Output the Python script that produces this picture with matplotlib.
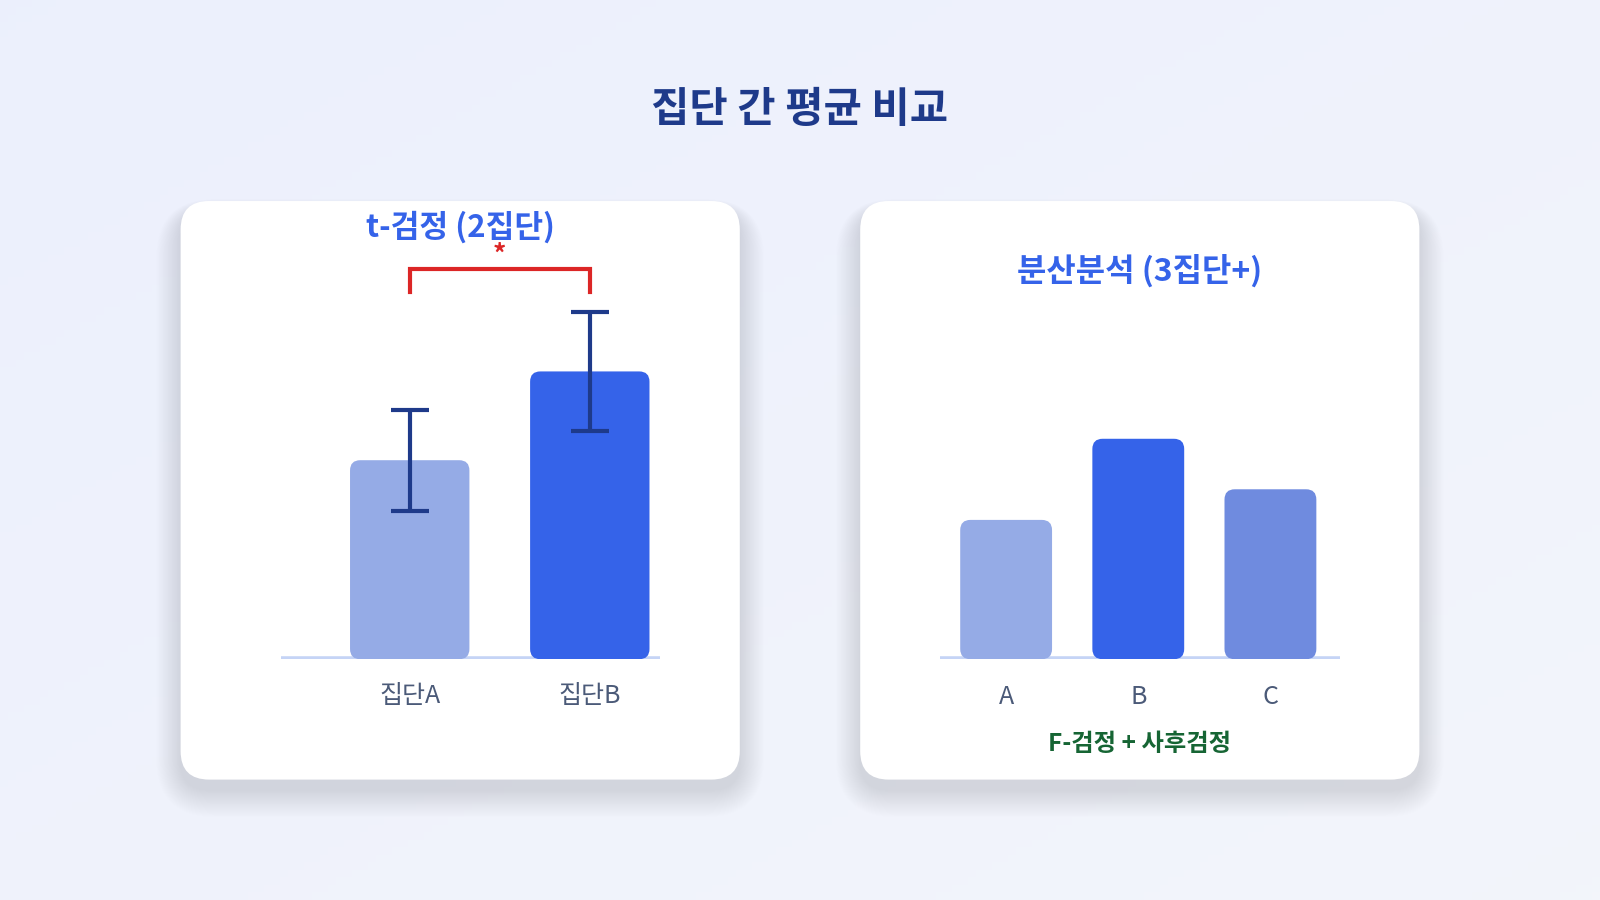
"""집단 간 평균 비교 — t-검정 vs 분산분석 카드 두 장."""
import matplotlib

matplotlib.use("Agg")
import matplotlib.pyplot as plt  # noqa: E402
import numpy as np  # noqa: E402
from matplotlib.patches import FancyBboxPatch  # noqa: E402

plt.rcParams["font.family"] = ["Noto Sans CJK KR", "DejaVu Sans"]

# ---- data ----
t_groups = ["집단A", "집단B"]
t_means = [65, 94]
t_errs = [16.5, 19.5]
t_colors = ["#95abe6", "#3563e9"]

anova_groups = ["A", "B", "C"]
anova_means = [45.5, 72, 55.5]
anova_colors = ["#95abe6", "#3563e9", "#6f8bdf"]

title = "집단 간 평균 비교"
left_title = "t-검정 (2집단)"
right_title = "분산분석 (3집단+)"
footer = "F-검정 + 사후검정"

# reference layout is 1568x882, output 1600x900 (same ratio)
W, H = 1568, 882


def fig_rect(x0, y0, x1, y1):
    """pixel box (top-left origin) -> figure fraction rect"""
    return [x0 / W, 1 - y1 / H, (x1 - x0) / W, (y1 - y0) / H]


fig = plt.figure(figsize=(16, 9), dpi=100)

# background with soft gradient
bg = fig.add_axes([0, 0, 1, 1])
bg.set_xlim(0, W)
bg.set_ylim(H, 0)
bg.axis("off")
gx, gy = np.meshgrid(np.linspace(0, 1, 200), np.linspace(0, 1, 120))
g = (gx + gy) / 2
c0 = np.array([0.925, 0.941, 0.992])
c1 = np.array([0.953, 0.961, 0.984])
img = c0[None, None, :] * (1 - g[..., None]) + c1[None, None, :] * g[..., None]
bg.imshow(img, extent=[0, W, H, 0], aspect="auto", zorder=0)

# cards with soft, diffuse shadow (mostly below)
for cx0 in (177, 843):
    cx1, cy0, cy1 = cx0 + 548, 197, 764
    for k in range(30, 0, -1):
        bg.add_patch(FancyBboxPatch(
            (cx0 - k * 0.8, cy0 - k * 0.4 + 10), cx1 - cx0 + k * 1.6, cy1 - cy0 + k * 1.3,
            boxstyle="round,pad=0,rounding_size=%d" % (28 + k),
            fc="#8497d6", ec="none", alpha=0.0055, zorder=1))
    bg.add_patch(FancyBboxPatch(
        (cx0, cy0), cx1 - cx0, cy1 - cy0,
        boxstyle="round,pad=0,rounding_size=28", fc="white", ec="none", zorder=2))

fig.text(784 / W, 1 - 108 / H, title, ha="center", va="center",
         fontsize=30, fontweight="bold", color="#1e3a8a")


def rounded_bars(ax, xs, heights, width, colors, px_x, px_y, r=10):
    # px_x / px_y: pixels per data unit along x and y
    for x, h, c in zip(xs, heights, colors):
        ax.add_patch(FancyBboxPatch(
            (x - width / 2, 0), width, h,
            boxstyle="round,pad=0,rounding_size=%f" % (r / px_x),
            mutation_aspect=px_x / px_y, fc=c, ec="none", zorder=3))


# ---- left: t-test ----
ax1 = fig.add_axes(fig_rect(275, 250, 647, 646))
ax1.set_xlim(-0.717, 1.391)
ax1.set_ylim(0, 132)
ax1.axis("off")
x1 = np.arange(len(t_groups))
ax1.axhline(0, color="#c5d4f6", lw=4, zorder=2)
rounded_bars(ax1, x1, t_means, 0.663, t_colors, 176.5, 3.0)
ax1.errorbar(x1, t_means, yerr=t_errs, fmt="none", ecolor="#1e3a8a",
             elinewidth=3, capsize=14, capthick=3, zorder=4)
for x, lab in zip(x1, t_groups):
    ax1.text(x, -12, lab, ha="center", va="center", fontsize=18, color="#4b5a78",
             clip_on=False)
# significance bracket
top = max(m + e for m, e in zip(t_means, t_errs))
y_lo, y_hi = top + 6.5, top + 14
ax1.plot([x1[0], x1[0], x1[1], x1[1]], [y_lo, y_hi, y_hi, y_lo],
         color="#dc2626", lw=3, solid_joinstyle="miter", zorder=4, clip_on=False)
ax1.text(x1.mean(), y_hi + 4.5, "*", ha="center", va="center", fontsize=19,
         fontweight="bold", color="#dc2626", clip_on=False)
fig.text(451 / W, 1 - 223 / H, left_title, ha="center", va="center",
         fontsize=22.5, fontweight="bold", color="#3563e9")

# ---- right: ANOVA ----
ax2 = fig.add_axes(fig_rect(921, 250, 1313, 646))
ax2.set_xlim(-0.502, 2.525)
ax2.set_ylim(0, 132)
ax2.axis("off")
x2 = np.arange(len(anova_groups))
ax2.axhline(0, color="#c5d4f6", lw=4, zorder=2)
rounded_bars(ax2, x2, anova_means, 0.695, anova_colors, 129.5, 3.0)
for x, lab in zip(x2, anova_groups):
    ax2.text(x, -12.3, lab, ha="center", va="center", fontsize=18, color="#4b5a78",
             clip_on=False)
fig.text(1117 / W, 1 - 266 / H, right_title, ha="center", va="center",
         fontsize=23, fontweight="bold", color="#3563e9")
fig.text(1117 / W, 1 - 729 / H, footer, ha="center", va="center",
         fontsize=17.5, fontweight="bold", color="#166534")

fig.savefig("out.png", dpi=100)
plt.close(fig)
